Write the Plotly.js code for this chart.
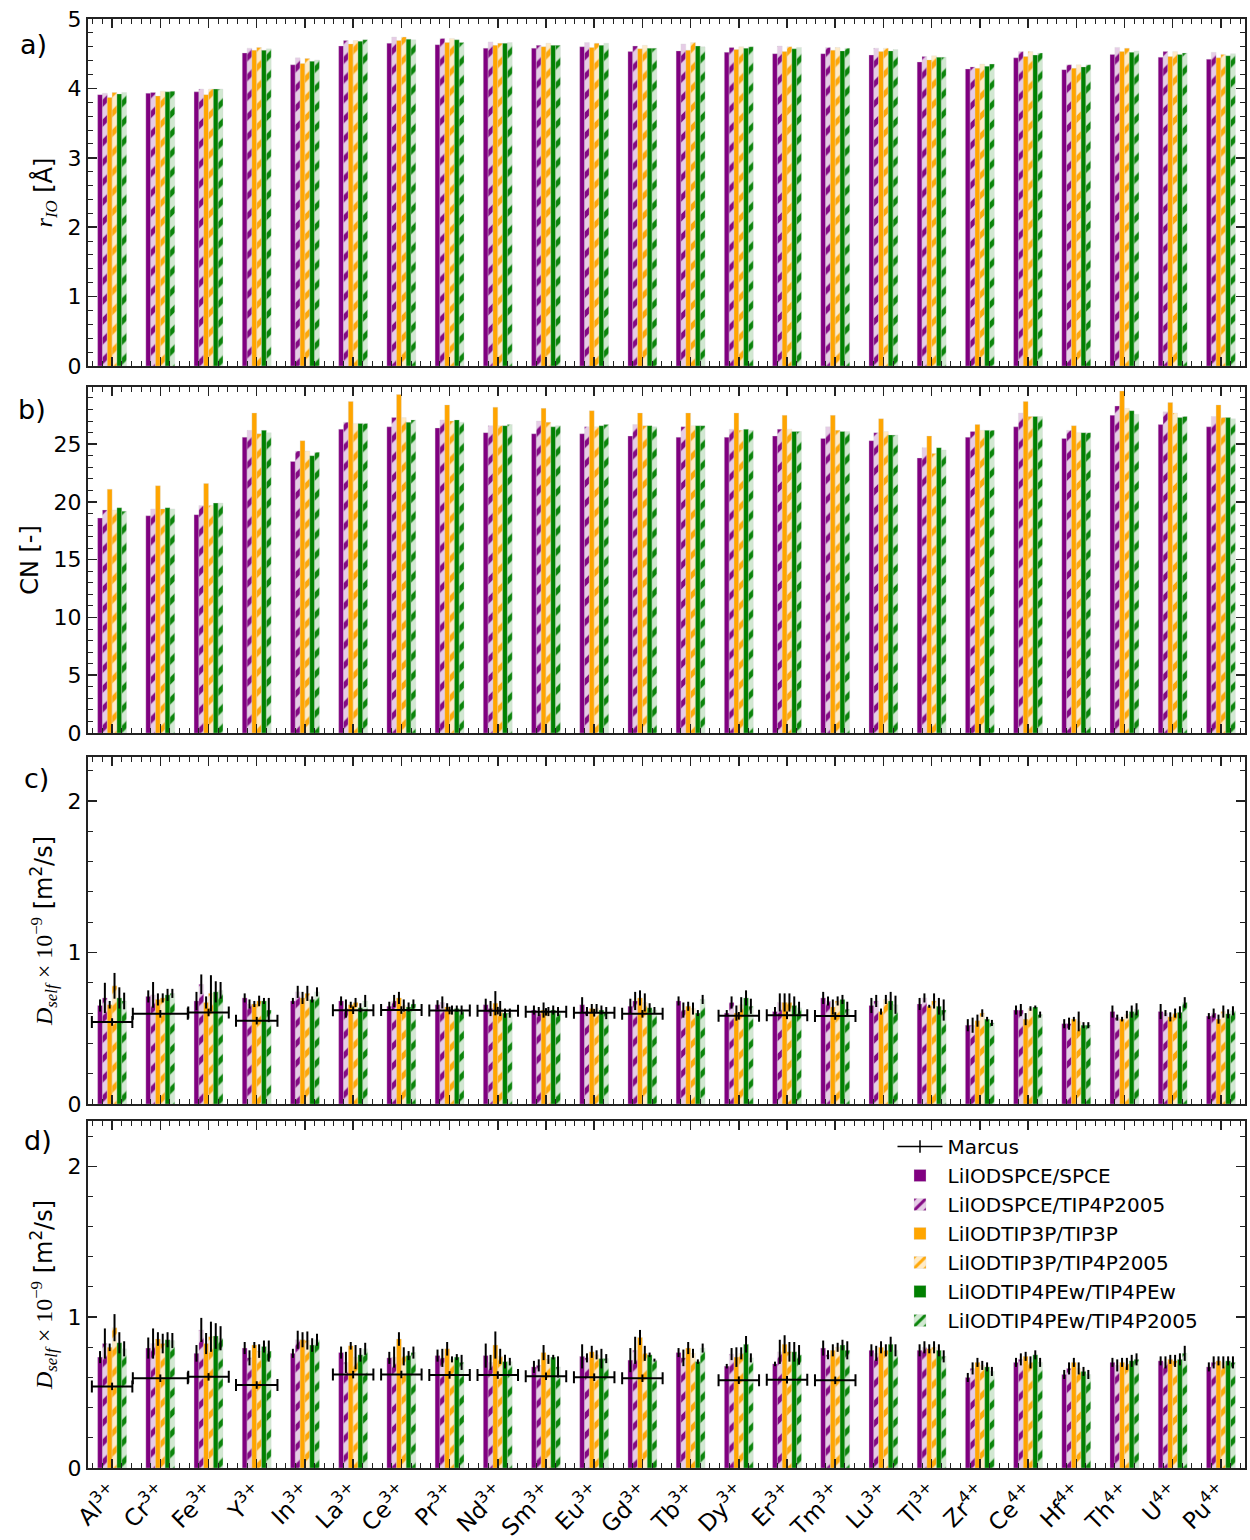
<!DOCTYPE html>
<html>
<head>
<meta charset="utf-8">
<script src="https://cdn.plot.ly/plotly-3.0.1.min.js"></script>
<style>html,body{margin:0;padding:0;background:#fff;}</style>
</head>
<body>
<div id="chart" style="width:1250px;height:1540px;"></div>
<script>
// ---------------- DATA ----------------
const ions = ['Al<sup>3+</sup>','Cr<sup>3+</sup>','Fe<sup>3+</sup>','Y<sup>3+</sup>','In<sup>3+</sup>','La<sup>3+</sup>',
  'Ce<sup>3+</sup>','Pr<sup>3+</sup>','Nd<sup>3+</sup>','Sm<sup>3+</sup>','Eu<sup>3+</sup>','Gd<sup>3+</sup>',
  'Tb<sup>3+</sup>','Dy<sup>3+</sup>','Er<sup>3+</sup>','Tm<sup>3+</sup>','Lu<sup>3+</sup>','Tl<sup>3+</sup>',
  'Zr<sup>4+</sup>','Ce<sup>4+</sup>','Hf<sup>4+</sup>','Th<sup>4+</sup>','U<sup>4+</sup>','Pu<sup>4+</sup>'];

const seriesNames = ['LiIODSPCE/SPCE','LiIODSPCE/TIP4P2005','LiIODTIP3P/TIP3P',
  'LiIODTIP3P/TIP4P2005','LiIODTIP4PEw/TIP4PEw','LiIODTIP4PEw/TIP4P2005'];

// a) r_IO [Å]
const rIO_SPCE_SPCE   = [3.91,3.93,3.95,4.51,4.34,4.61,4.65,4.63,4.58,4.58,4.60,4.53,4.54,4.52,4.50,4.50,4.48,4.38,4.28,4.44,4.27,4.49,4.45,4.42];
const rIO_SPCE_T2005  = [3.93,3.94,3.99,4.58,4.44,4.69,4.74,4.72,4.67,4.62,4.66,4.61,4.64,4.59,4.61,4.59,4.58,4.46,4.31,4.53,4.34,4.59,4.53,4.52];
const rIO_T3P_T3P     = [3.87,3.89,3.91,4.55,4.36,4.64,4.69,4.66,4.62,4.60,4.59,4.57,4.55,4.56,4.53,4.55,4.53,4.41,4.29,4.46,4.29,4.53,4.46,4.44];
const rIO_T3P_T2005   = [3.94,3.96,3.99,4.59,4.43,4.69,4.74,4.72,4.65,4.65,4.65,4.62,4.66,4.60,4.60,4.59,4.58,4.47,4.35,4.53,4.34,4.58,4.53,4.49];
const rIO_T4Ew_T4Ew   = [3.92,3.95,3.99,4.55,4.39,4.68,4.71,4.70,4.65,4.62,4.62,4.58,4.61,4.58,4.57,4.54,4.54,4.45,4.32,4.48,4.31,4.52,4.49,4.47];
const rIO_T4Ew_T2005  = [3.94,3.96,3.99,4.57,4.41,4.70,4.70,4.66,4.66,4.62,4.65,4.58,4.60,4.60,4.59,4.58,4.56,4.45,4.35,4.51,4.34,4.54,4.51,4.50];

// b) CN [-]
const CN_SPCE_SPCE  = [18.6,18.8,18.9,25.6,23.5,26.3,26.5,26.4,26.0,25.9,25.9,25.7,25.6,25.6,25.7,25.5,25.3,23.8,25.6,26.5,25.5,27.5,26.7,26.5];
const CN_SPCE_T2005 = [19.3,19.4,19.7,26.2,24.4,26.9,27.3,27.1,26.6,27.0,26.5,26.7,26.5,26.3,26.3,26.5,26.0,24.7,26.1,27.7,26.2,28.3,27.8,27.4];
const CN_T3P_T3P    = [21.1,21.4,21.6,27.7,25.3,28.7,29.3,28.4,28.2,28.1,27.9,27.7,27.7,27.7,27.5,27.5,27.2,25.7,26.7,28.7,26.6,29.6,28.6,28.4];
const CN_T3P_T2005  = [19.3,19.4,19.7,25.9,24.4,26.8,27.3,27.0,26.6,26.9,26.5,26.6,26.6,26.2,26.3,26.2,26.1,24.2,26.2,27.4,26.0,28.1,27.7,27.3];
const CN_T4Ew_T4Ew  = [19.5,19.5,19.9,26.2,24.0,26.8,26.9,27.1,26.6,26.5,26.6,26.6,26.6,26.3,26.1,26.1,25.8,24.7,26.2,27.4,26.0,27.9,27.3,27.3];
const CN_T4Ew_T2005 = [19.2,19.4,19.9,26.0,24.3,26.8,27.1,26.9,26.7,26.6,26.7,26.5,26.6,26.2,26.1,26.1,25.8,24.5,26.2,27.4,26.0,27.6,27.4,27.2];

// c) D_self (first set)
const Dc_SPCE_SPCE  = [0.65,0.71,0.68,0.70,0.68,0.68,0.645,0.655,0.655,0.62,0.655,0.645,0.68,0.60,0.61,0.70,0.65,0.66,0.52,0.62,0.53,0.61,0.61,0.58];
const Dc_SPCE_SPCE_err  = [0.04,0.04,0.06,0.03,0.02,0.03,0.03,0.03,0.04,0.03,0.05,0.05,0.03,0.02,0.03,0.04,0.05,0.04,0.04,0.03,0.03,0.04,0.05,0.02];
const Dc_SPCE_T2005 = [0.70,0.72,0.79,0.66,0.74,0.63,0.68,0.67,0.63,0.61,0.61,0.68,0.62,0.67,0.67,0.68,0.68,0.70,0.52,0.62,0.53,0.57,0.60,0.60];
const Dc_SPCE_T2005_err = [0.10,0.085,0.065,0.03,0.04,0.06,0.04,0.04,0.05,0.03,0.03,0.06,0.05,0.04,0.06,0.03,0.04,0.03,0.05,0.04,0.04,0.02,0.02,0.03];
const Dc_T3P_T3P    = [0.655,0.69,0.67,0.66,0.70,0.655,0.70,0.64,0.665,0.62,0.63,0.70,0.645,0.60,0.67,0.64,0.61,0.645,0.55,0.56,0.56,0.56,0.575,0.56];
const Dc_T3P_T3P_err    = [0.025,0.04,0.04,0.02,0.04,0.02,0.04,0.025,0.08,0.05,0.03,0.05,0.03,0.05,0.06,0.05,0.02,0.01,0.04,0.04,0.015,0.015,0.03,0.03];
const Dc_T3P_T2005  = [0.78,0.70,0.73,0.68,0.73,0.67,0.65,0.62,0.63,0.61,0.63,0.67,0.63,0.655,0.67,0.68,0.69,0.68,0.60,0.63,0.545,0.59,0.60,0.61];
const Dc_T3P_T2005_err  = [0.085,0.03,0.12,0.035,0.05,0.03,0.04,0.03,0.05,0.03,0.03,0.06,0.04,0.05,0.06,0.03,0.03,0.05,0.025,0.015,0.065,0.025,0.03,0.04];
const Dc_T4Ew_T4Ew  = [0.70,0.72,0.74,0.68,0.69,0.635,0.64,0.63,0.60,0.62,0.62,0.635,0.60,0.70,0.65,0.69,0.68,0.645,0.56,0.64,0.52,0.61,0.605,0.595];
const Dc_T4Ew_T4Ew_err  = [0.07,0.04,0.07,0.02,0.02,0.03,0.03,0.02,0.03,0.03,0.03,0.03,0.02,0.05,0.06,0.03,0.06,0.055,0.015,0.01,0.02,0.04,0.04,0.03];
const Dc_T4Ew_T2005 = [0.68,0.73,0.75,0.62,0.74,0.68,0.66,0.62,0.60,0.61,0.60,0.62,0.69,0.645,0.635,0.625,0.655,0.62,0.535,0.59,0.52,0.625,0.67,0.615];
const Dc_T4Ew_T2005_err = [0.055,0.03,0.055,0.08,0.03,0.04,0.03,0.03,0.03,0.03,0.04,0.02,0.03,0.05,0.04,0.05,0.06,0.07,0.02,0.02,0.02,0.04,0.035,0.03];

// d) D_self (second set)
const Dd_SPCE_SPCE  = [0.735,0.795,0.76,0.795,0.76,0.765,0.73,0.745,0.745,0.67,0.74,0.715,0.765,0.675,0.69,0.795,0.78,0.78,0.60,0.70,0.62,0.70,0.71,0.67];
const Dd_SPCE_SPCE_err  = [0.04,0.07,0.055,0.04,0.03,0.04,0.04,0.04,0.08,0.04,0.08,0.08,0.03,0.015,0.015,0.05,0.04,0.04,0.03,0.03,0.03,0.03,0.03,0.03];
const Dd_SPCE_T2005 = [0.825,0.825,0.915,0.73,0.85,0.70,0.735,0.73,0.70,0.68,0.73,0.78,0.73,0.755,0.77,0.75,0.76,0.80,0.66,0.72,0.66,0.68,0.70,0.70];
const Dd_SPCE_T2005_err = [0.10,0.10,0.08,0.05,0.06,0.07,0.07,0.06,0.05,0.04,0.03,0.09,0.055,0.04,0.08,0.03,0.05,0.04,0.04,0.04,0.04,0.04,0.04,0.04];
const Dd_T3P_T3P    = [0.80,0.855,0.825,0.815,0.85,0.81,0.855,0.79,0.815,0.765,0.77,0.865,0.795,0.735,0.82,0.78,0.80,0.79,0.70,0.74,0.70,0.70,0.72,0.71];
const Dd_T3P_T3P_err    = [0.025,0.045,0.07,0.02,0.05,0.025,0.045,0.045,0.09,0.05,0.04,0.05,0.04,0.065,0.06,0.04,0.04,0.03,0.03,0.03,0.03,0.03,0.03,0.03];
const Dd_T3P_T2005  = [0.93,0.825,0.87,0.775,0.845,0.735,0.74,0.72,0.74,0.72,0.75,0.76,0.76,0.76,0.77,0.80,0.78,0.80,0.68,0.70,0.66,0.69,0.71,0.70];
const Dd_T3P_T2005_err  = [0.09,0.065,0.10,0.045,0.06,0.08,0.06,0.02,0.05,0.03,0.03,0.05,0.03,0.04,0.065,0.03,0.04,0.04,0.03,0.04,0.04,0.04,0.04,0.04];
const Dd_T4Ew_T4Ew  = [0.83,0.85,0.875,0.805,0.815,0.75,0.745,0.735,0.705,0.735,0.725,0.75,0.705,0.82,0.77,0.815,0.82,0.78,0.67,0.75,0.64,0.71,0.72,0.71];
const Dd_T4Ew_T4Ew_err  = [0.07,0.05,0.085,0.04,0.045,0.045,0.03,0.02,0.045,0.015,0.065,0.015,0.015,0.055,0.065,0.035,0.05,0.04,0.03,0.03,0.03,0.04,0.04,0.03];
const Dd_T4Ew_T2005 = [0.79,0.845,0.86,0.775,0.85,0.79,0.765,0.70,0.705,0.67,0.725,0.715,0.795,0.73,0.75,0.78,0.78,0.74,0.64,0.70,0.62,0.72,0.76,0.70];
const Dd_T4Ew_T2005_err = [0.05,0.05,0.08,0.07,0.04,0.04,0.04,0.05,0.025,0.07,0.03,0.01,0.03,0.03,0.065,0.06,0.04,0.04,0.03,0.03,0.03,0.04,0.05,0.04];

// Marcus experimental values
const marcusIons  = ['Al<sup>3+</sup>','Cr<sup>3+</sup>','Fe<sup>3+</sup>','Y<sup>3+</sup>','La<sup>3+</sup>','Ce<sup>3+</sup>','Pr<sup>3+</sup>',
  'Nd<sup>3+</sup>','Sm<sup>3+</sup>','Eu<sup>3+</sup>','Gd<sup>3+</sup>','Dy<sup>3+</sup>','Er<sup>3+</sup>','Tm<sup>3+</sup>'];
const marcusD     = [0.541,0.595,0.604,0.550,0.619,0.620,0.617,0.616,0.608,0.602,0.595,0.582,0.585,0.581];
const marcusXErr  = [0.42,0.57,0.42,0.43,0.42,0.42,0.42,0.42,0.42,0.42,0.42,0.42,0.42,0.42];
const marcusYErr  = [0.025,0.025,0.025,0.025,0.025,0.025,0.025,0.025,0.025,0.025,0.025,0.025,0.025,0.025];

// ---------------- STYLE / BUILD ----------------
const xPos = ions.map((_, i) => i);
const styles = [
  {c:'#800080', bg:'#800080', hatch:false},
  {c:'#800080', bg:'rgba(128,0,128,0.2)', hatch:true},
  {c:'#FFA500', bg:'#FFA500', hatch:false},
  {c:'#FFA500', bg:'rgba(255,165,0,0.22)', hatch:true},
  {c:'#008000', bg:'#008000', hatch:false},
  {c:'#008000', bg:'rgba(0,128,0,0.18)', hatch:true}
];
const panels = [
  {sfx:'',  vals:[rIO_SPCE_SPCE,rIO_SPCE_T2005,rIO_T3P_T3P,rIO_T3P_T2005,rIO_T4Ew_T4Ew,rIO_T4Ew_T2005], errs:null},
  {sfx:'2', vals:[CN_SPCE_SPCE,CN_SPCE_T2005,CN_T3P_T3P,CN_T3P_T2005,CN_T4Ew_T4Ew,CN_T4Ew_T2005], errs:null},
  {sfx:'3', vals:[Dc_SPCE_SPCE,Dc_SPCE_T2005,Dc_T3P_T3P,Dc_T3P_T2005,Dc_T4Ew_T4Ew,Dc_T4Ew_T2005],
           errs:[Dc_SPCE_SPCE_err,Dc_SPCE_T2005_err,Dc_T3P_T3P_err,Dc_T3P_T2005_err,Dc_T4Ew_T4Ew_err,Dc_T4Ew_T2005_err]},
  {sfx:'4', vals:[Dd_SPCE_SPCE,Dd_SPCE_T2005,Dd_T3P_T3P,Dd_T3P_T2005,Dd_T4Ew_T4Ew,Dd_T4Ew_T2005],
           errs:[Dd_SPCE_SPCE_err,Dd_SPCE_T2005_err,Dd_T3P_T3P_err,Dd_T3P_T2005_err,Dd_T4Ew_T4Ew_err,Dd_T4Ew_T2005_err]}
];

const traces = [];
// legend-only Marcus entry
traces.push({type:'scatter', x:[null], y:[null], mode:'lines+markers', name:'Marcus',
  line:{color:'black', width:1.5}, marker:{symbol:'line-ns-open', size:9, line:{color:'black', width:1.5}},
  xaxis:'x4', yaxis:'y4', showlegend:true, legendrank:1});

panels.forEach((p, pi) => {
  p.vals.forEach((v, si) => {
    const st = styles[si];
    const marker = {color: st.bg, line:{color:'rgba(215,215,215,0.55)', width:0.6}};
    if (st.hatch) {
      marker.pattern = {shape:'/', fgcolor: st.c, fgopacity:0.95, bgcolor: st.bg, size:14, solidity:0.38, fillmode:'replace'};
    }
    const tr = {type:'bar', x:xPos, y:v, name:seriesNames[si], marker:marker,
      xaxis:'x'+p.sfx, yaxis:'y'+p.sfx, showlegend: pi===3, legendrank: 2+si};
    if (p.errs) {
      tr.error_y = {type:'data', array:p.errs[si], visible:true, color:'black', thickness:2, width:0};
    }
    traces.push(tr);
  });
});

const mX = marcusIons.map(m => ions.indexOf(m));
['3','4'].forEach(s => {
  traces.push({type:'scatter', x:mX, y:marcusD, mode:'markers', name:'Marcus', showlegend:false,
    marker:{size:1, color:'black', opacity:0},
    error_x:{type:'data', array:marcusXErr, visible:true, color:'black', thickness:2, width:6},
    error_y:{type:'data', array:marcusYErr, visible:true, color:'black', thickness:2, width:0},
    xaxis:'x'+s, yaxis:'y'+s});
});

const W = 1250, H = 1540;
const xdom = [88/W, 1245/W];
const ydom = [[1-366/H, 1-19/H],[1-733/H, 1-387/H],[1-1104/H, 1-757/H],[1-1468/H, 1-1121/H]];
const tickFont = {family:'DejaVu Sans', size:22, color:'black'};
const axBase = {showline:true, linecolor:'#222', linewidth:2, mirror:'allticks', ticks:'inside',
  ticklen:9, tickwidth:1.5, tickcolor:'#222', showgrid:false, zeroline:false, tickfont:tickFont};

function xax(i){
  const a = Object.assign({}, axBase, {domain:xdom, range:[-0.5, 23.5], anchor:'y'+(i===0?'':(i+1)),
    tickmode:'array', tickvals:xPos, ticktext:ions, showticklabels: i===3,
    minor:{ticks:'inside', ticklen:5, tickwidth:1, tickcolor:'#222', tick0:0, dtick:0.2, showgrid:false},
    tickangle:-45, tickfont:{family:'DejaVu Sans', size:23, color:'black'}});
  if (i>0) a.matches = 'x';
  return a;
}
const mathT = '<span style="font-family:Liberation Serif"><i>D</i><sub><i>self</i></sub> × 10<sup>−9</sup></span> [m<sup>2</sup>/s]';
function yax(i, range, dtick, mdtick, title){
  return Object.assign({}, axBase, {domain:ydom[i], range:range, anchor:'x'+(i===0?'':(i+1)),
    dtick:dtick, tick0:0,
    minor:{ticks:'inside', ticklen:5, tickwidth:1, tickcolor:'#222', tick0:0, dtick:mdtick, showgrid:false},
    title:{text:title, font:{family:'DejaVu Sans', size:24, color:'black'}, standoff:8}});
}

const layout = {
  width:W, height:H, margin:{l:0, r:0, t:0, b:0}, paper_bgcolor:'white', plot_bgcolor:'white',
  barmode:'group', bargap:0.4, bargroupgap:0,
  font:{family:'DejaVu Sans', color:'black'},
  xaxis:xax(0), xaxis2:xax(1), xaxis3:xax(2), xaxis4:xax(3),
  yaxis: yax(0,[0,5],1,0.2,'<span style="font-family:Liberation Serif"><i>r</i><sub><i>IO</i></sub></span> [Å]'),
  yaxis2:yax(1,[0,29.95],5,1,'CN [-]'),
  yaxis3:yax(2,[0,2.29],1,0.2,mathT),
  yaxis4:yax(3,[0,2.3],1,0.2,mathT),
  legend:{x:0.714, y:1-1127/H, xanchor:'left', yanchor:'top', bgcolor:'rgba(255,255,255,0)',
    font:{family:'DejaVu Sans', size:20, color:'black'}, tracegroupgap:0, itemwidth:45},
  annotations:[
    {text:'a)', x:18/W, y:1-44/H, xref:'paper', yref:'paper', showarrow:false, xanchor:'left', yanchor:'middle', font:{size:27, family:'DejaVu Sans'}},
    {text:'b)', x:16/W, y:1-410/H, xref:'paper', yref:'paper', showarrow:false, xanchor:'left', yanchor:'middle', font:{size:27, family:'DejaVu Sans'}},
    {text:'c)', x:22/W, y:1-778/H, xref:'paper', yref:'paper', showarrow:false, xanchor:'left', yanchor:'middle', font:{size:27, family:'DejaVu Sans'}},
    {text:'d)', x:22/W, y:1-1140/H, xref:'paper', yref:'paper', showarrow:false, xanchor:'left', yanchor:'middle', font:{size:27, family:'DejaVu Sans'}}
  ]
};

Plotly.newPlot('chart', traces, layout, {staticPlot:true, displayModeBar:false});
</script>
</body>
</html>
